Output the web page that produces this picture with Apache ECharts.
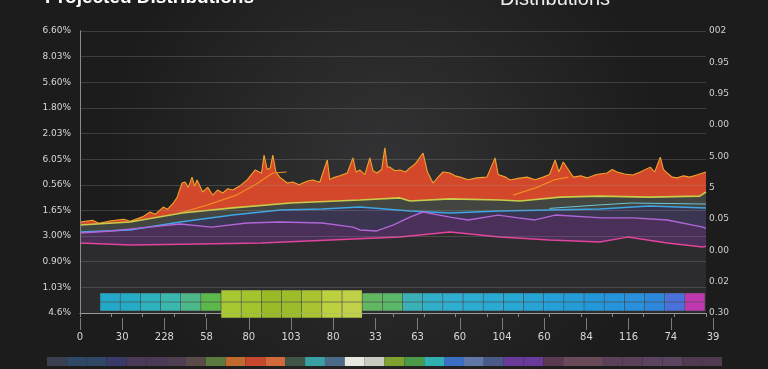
<!DOCTYPE html>
<html><head><meta charset="utf-8">
<script src="https://cdn.jsdelivr.net/npm/echarts@6/dist/echarts.min.js"></script>
<style>html,body{margin:0;padding:0;background:#262626}#c{width:768px;height:369px}</style>
</head><body><div id="c"></div>
<script>
// ---- tick labels ----
const leftLabels = ["4.6%","1.03%","0.90%","3.00%","1.65%","0.56%","6.05%","2.03%","1.80%","5.60%","8.03%","6.60%"];
const rightLabels = ["0.30","0.02","0.00","0.05","5","5.00","0.00","0.95","0.95","002"];
const bottomLabels = ["0","30","228","58","80","103","80","33","63","60","104","60","84","116","74","39"];
const titleLeft = "Projected Distributions";
const titleRight = "Distributions";

// ---- series values [x, y] ----
const orangeTop = [[0,3.55],[2,3.62],[3,3.5],[5,3.6],[7,3.66],[8,3.58],[10,3.75],[11.2,3.94],[12,3.85],[13.3,4.13],[14,4.05],[14.9,4.29],[15.5,4.5],[16.3,5.07],[16.8,5.11],[17.3,4.9],[17.9,5.3],[18.3,4.95],[18.7,5.19],[19.6,4.72],[20.4,4.9],[21.2,4.6],[22,4.8],[22.8,4.68],[23.6,4.85],[24.4,4.8],[25.5,4.95],[26.7,5.19],[28,5.58],[29,5.45],[29.4,6.16],[29.9,5.6],[30.4,5.66],[30.8,6.16],[31.3,5.5],[31.9,5.3],[33.1,5.07],[34,5.11],[35,5.0],[35.6,5.07],[36.4,5.15],[37.2,5.19],[38.3,5.1],[39.5,5.97],[39.9,5.2],[40.4,5.27],[41.5,5.35],[42.7,5.46],[43.6,6.05],[44.1,5.5],[44.7,5.58],[45.5,5.4],[46.3,6.05],[46.8,5.55],[47.4,5.46],[48.2,5.6],[48.7,6.44],[49.1,5.7],[49.5,5.69],[50.3,5.55],[51.1,5.58],[52,5.5],[52.7,5.66],[53.5,5.8],[54.8,6.24],[55.5,5.5],[56.4,5.07],[57.2,5.3],[58,5.5],[59.1,5.46],[59.9,5.35],[60.7,5.3],[62,5.2],[63.4,5.27],[65,5.3],[66.3,6.05],[66.8,5.4],[67.1,5.46],[68,5.3],[68.7,5.19],[70,5.25],[71.4,5.3],[72.7,5.2],[74,5.3],[75,5.4],[75.9,5.97],[76.5,5.5],[77.2,5.89],[78,5.6],[78.8,5.3],[80,5.35],[81,5.27],[82.5,5.4],[84.2,5.46],[85,5.6],[85.8,5.5],[87,5.42],[88.3,5.38],[89.5,5.5],[91.1,5.69],[91.8,5.5],[92.7,6.08],[93.2,5.6],[93.8,5.46],[94.6,5.3],[95.4,5.27],[96.4,5.35],[97.4,5.3],[98.5,5.38],[99.5,5.46],[100,5.5]];
const orangeInnerA = [[16,3.9],[20.3,4.21],[25,4.6],[28,5.0],[30.8,5.46],[33,5.5]];
const orangeInnerB = [[69.2,4.6],[73,4.9],[75.7,5.19],[78,5.3]];
const yellowLine = [[0,3.43],[8,3.55],[16.3,3.9],[24.4,4.1],[33.6,4.29],[44.7,4.41],[51.1,4.49],[52.7,4.37],[59.1,4.45],[67.1,4.41],[70.3,4.37],[76.7,4.52],[83,4.56],[91,4.52],[99,4.56],[100,4.72]];
const blueLine = [[0,3.16],[8,3.24],[16,3.55],[24.4,3.82],[32,4.02],[38.7,4.06],[44.7,4.13],[52.7,3.98],[59.1,3.9],[67.1,3.98],[75,4.02],[83,4.06],[91,4.17],[100,4.1]];
const cyanLine = [[75,4.08],[82,4.2],[88,4.29],[100,4.25]];
const purpleLine = [[0,3.12],[5,3.2],[11,3.35],[16,3.47],[21,3.35],[26.7,3.51],[31.9,3.55],[38.7,3.51],[43.6,3.35],[44.7,3.24],[47.4,3.2],[50,3.43],[52.7,3.74],[54.8,3.94],[59.1,3.74],[62,3.63],[66.8,3.82],[70,3.71],[72.7,3.63],[75.9,3.82],[83.4,3.71],[88.3,3.71],[93.8,3.63],[99.5,3.35],[100,3.3]];
const pinkLine = [[0,2.73],[8,2.65],[19,2.69],[29,2.73],[40,2.85],[51.1,2.96],[59.1,3.16],[67.1,2.96],[75,2.85],[83,2.77],[87.5,2.96],[93.8,2.73],[99.5,2.57],[100,2.6]];

// strip cells (upper / lower extent)
const stripUp =   [9,9,9,9,9,9,12,12,12,12,12,12,12,9,9,9,9,9,9,9,9,9,9,9,9,9,9,9,9,9];
const stripDown = [-9,-9,-9,-9,-9,-9,-16,-16,-16,-16,-16,-16,-16,-9,-9,-9,-9,-9,-9,-9,-9,-9,-9,-9,-9,-9,-9,-9,-9,-9];
const bandValues = [1,1,1,1,1,1,1,1,1,1,1,1,1,1,1,1,1,1,1,1,1,1,1,1,1,1,1,1,1,1,1,1,1,1];

// ---- styles ----
const stripColors = ["#22a9c9","#25abc6","#2db3bd","#3ab8b0","#4cb88a","#5cb84a","#a8c832","#a4c42e","#98ba26","#9cbc2a","#a8c430","#bcd040","#c0d048","#62b860","#5ab868","#3cb0b8","#30b0c8","#2eaed0","#2cacd0","#2aaad2","#28a8d4","#26a4d6","#24a0d8","#239cd8","#2298da","#2494dc","#2890dc","#2c88dc","#4a70dc","#c038b0"];
const bandColors = ["#3a4050","#2e4866","#2e4866","#3a3a6a","#4a3a58","#4a3a58","#4e3e52","#5a4a48","#5a7a40","#c06a30","#c8482e","#d06a3a","#405448","#38a0a0","#4a6a88","#e8e8e0","#c8ccc0","#80a030","#4a9a48","#30b0b0","#3a70c4","#6078a8","#4a5a88","#6a3a9a","#6a3a9a","#5a3a50","#6a4a58","#6a4a58","#5a4058","#5a4058","#5a4460","#5a4460","#503a50","#503a50"];

const chart = echarts.init(document.getElementById('c'));
const lineS = (data, color, area, w) => ({
  type:'line', xAxisIndex:0, yAxisIndex:0, data, showSymbol:false, symbol:'none',
  lineStyle:{color, width:w||1.3}, areaStyle: area ? {color:area, opacity:1, origin:'start'} : undefined,
  z:2, silent:true
});
chart.setOption({
  backgroundColor:{type:'radial',x:0.5,y:0.45,r:0.75,colorStops:[{offset:0,color:'#333335'},{offset:1,color:'#1c1c1c'}]},
  animation:false,
  graphic:[
    {type:'text', x:45, y:-12, silent:true, style:{text:titleLeft, fill:'#ffffff', font:'bold 19px "Liberation Sans"', textVerticalAlign:'top'}},
    {type:'text', x:500, y:-11, silent:true, style:{text:titleRight, fill:'#eeeeee', font:'20px "Liberation Sans"', textVerticalAlign:'top'}}
  ],
  grid:[
    {left:80, right:62, top:31, height:282},
    {left:80, right:55, top:0, height:318},
    {left:100, right:63, top:290, height:28},
    {left:47, right:46, top:357, height:9}
  ],
  xAxis:[
    {gridIndex:0, type:'value', min:0, max:100, show:false},
    {gridIndex:0, type:'value', min:0, max:100, interval:5, position:'top',
      axisLine:{show:true,lineStyle:{color:'#9a9a9a'}}, axisTick:{show:true,inside:true,length:4,lineStyle:{color:'#8a8a8a'}},
      axisLabel:{show:false}, splitLine:{show:false}},
    {gridIndex:1, type:'category', data:bottomLabels, boundaryGap:false,
      axisLine:{show:false}, axisTick:{show:true,length:12,alignWithLabel:true,lineStyle:{color:'#7a7a7a'}},
      axisLabel:{color:'#d8d8d8',fontSize:10,margin:14,fontFamily:'DejaVu Sans'}},
    {gridIndex:2, type:'category', data:stripUp.map((_,i)=>i), show:false},
    {gridIndex:3, type:'category', data:bandValues.map((_,i)=>i), show:false}
  ],
  yAxis:[
    {gridIndex:0, type:'value', min:0, max:11, interval:1, position:'left', z:3,
      axisLine:{show:true,lineStyle:{color:'#8a8a8a'}}, axisTick:{show:false},
      axisLabel:{color:'#d8d8d8',fontSize:9,margin:9,formatter:v=>leftLabels[v],fontFamily:'DejaVu Sans'},
      splitLine:{show:true,lineStyle:{color:'rgba(150,150,150,0.28)',width:1}}},
    {gridIndex:0, type:'value', min:0, max:9, interval:1, position:'right',
      axisLine:{show:true,lineStyle:{color:'#8a8a8a'}}, axisTick:{show:false},
      axisLabel:{color:'#cfcfcf',fontSize:9,margin:3,formatter:v=>rightLabels[v],fontFamily:'DejaVu Sans'},
      splitLine:{show:false}},
    {gridIndex:1, type:'value', show:false},
    {gridIndex:2, type:'value', min:-16, max:12, show:false},
    {gridIndex:3, type:'value', min:0, max:1, show:false}
  ],
  series:[
    lineS(orangeTop,'#f2a32a','#d3472a',1.1),
    lineS(orangeInnerA,'#f08c22',null,1.2),
    lineS(orangeInnerB,'#f08c22',null,1.2),
    lineS(yellowLine,'#c8cc4a','#434640',1.6),
    lineS(blueLine,'#3ea6e6','#3a3550',1.5),
    lineS(cyanLine,'#6cc4d8',null,1),
    lineS(purpleLine,'#b066d6','#4a2f58',1.4),
    lineS(pinkLine,'#e2449c','#2c2c2e',1.5),
    {type:'bar', xAxisIndex:3, yAxisIndex:3, stack:'strip', barCategoryGap:'0%', silent:true,
      data:stripUp.map((v,i)=>({value:v,itemStyle:{color:stripColors[i],borderColor:'rgba(255,255,255,0.12)',borderWidth:0.6}}))},
    {type:'bar', xAxisIndex:3, yAxisIndex:3, stack:'strip', barCategoryGap:'0%', silent:true,
      data:stripDown.map((v,i)=>({value:v,itemStyle:{color:stripColors[i],borderColor:'rgba(255,255,255,0.12)',borderWidth:0.6}}))},
    {type:'bar', xAxisIndex:4, yAxisIndex:4, barCategoryGap:'0%', silent:true,
      data:bandValues.map((v,i)=>({value:v,itemStyle:{color:bandColors[i]}}))}
  ]
});
</script></body></html>
